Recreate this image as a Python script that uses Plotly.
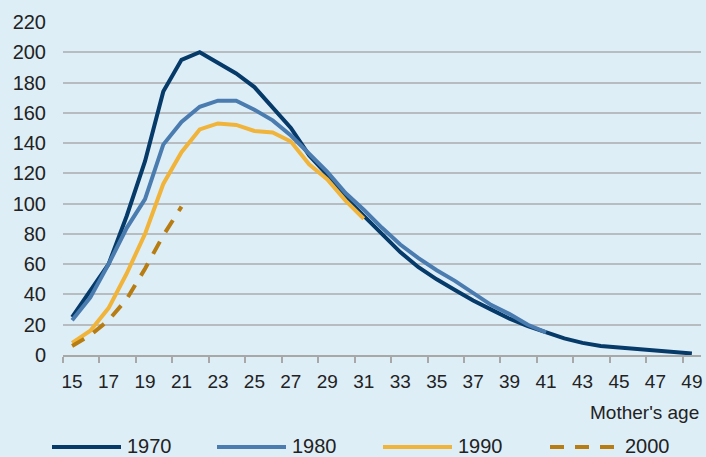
import plotly.graph_objects as go

# Mother's age (x categories) and births per 1000 women by year
ages = list(range(15, 50))

rates_1970 = [25, 42, 60, 92, 128, 174, 195, 200, 193, 186, 177, 163, 150, 132, 119,
              104, 92, 80, 68, 58, 50, 43, 36, 30, 24, 19, 15, 11, 8, 6, 5, 4, 3, 2, 1]
rates_1980 = [23, 38, 60, 84, 103, 139, 154, 164, 168, 168, 162, 155, 145, 133, 121,
              107, 96, 84, 73, 64, 56, 49, 41, 33, 27, 20, 15]
rates_1990 = [8, 16, 31, 54, 80, 113, 134, 149, 153, 152, 148, 147, 141, 126, 116, 102, 90]
rates_2000 = [6, 13, 23, 37, 57, 79, 98]

series_names = ['1970', '1980', '1990', '2000']
y_ticks = list(range(0, 221, 20))

colors = ['#053a69', '#4a7cb0', '#f0b43a', '#b77d12']
dashes = ['solid', 'solid', 'solid', '14px,11px']
font = 'Liberation Sans, Arial, sans-serif'

fig = go.Figure()

for name, rates, color, dash in zip(series_names, [rates_1970, rates_1980, rates_1990, rates_2000],
                                    colors, dashes):
    fig.add_trace(go.Scatter(
        x=ages[:len(rates)],
        y=rates,
        name=name,
        mode='lines',
        line=dict(color=color, width=4, dash=dash),
        showlegend=False
    ))

# Hand-made legend below the plot (long line samples like the original)
L, R, T, B = 63, 701, 22, 355


def px_x(p):
    return (p - L) / (R - L)


def px_y(p):
    return (B - p) / (B - T)


legend_line_x = [52, 217, 383, 550]
legend_y = 446
for name, color, dash, lx in zip(series_names, colors, dashes, legend_line_x):
    fig.add_shape(type='line', xref='paper', yref='paper',
                  x0=px_x(lx), x1=px_x(lx + 69), y0=px_y(legend_y + 1), y1=px_y(legend_y + 1),
                  line=dict(color=color, width=4, dash=dash))
    fig.add_annotation(xref='paper', yref='paper', x=px_x(lx + 73), y=px_y(legend_y),
                       text=name, showarrow=False, xanchor='left', yanchor='middle',
                       font=dict(family=font, size=20, color='#222222'))

fig.add_annotation(xref='paper', yref='paper', x=1, y=px_y(412),
                   text="Mother's age", showarrow=False, xanchor='right', yanchor='middle',
                   font=dict(family=font, size=19, color='#222222'))

fig.update_layout(
    width=706, height=457,
    margin=dict(l=L, r=706 - R, t=T, b=457 - B, pad=0),
    paper_bgcolor='#deeef7',
    plot_bgcolor='#deeef7',
    font=dict(family=font, size=19, color='#222222'),
    xaxis=dict(type='category', tickson='boundaries', dtick=2, ticks='outside', ticklen=6,
               tickcolor='#a8a8a8', tickwidth=2, showgrid=False, showline=True,
               linecolor='#a8a8a8', linewidth=2, tickfont=dict(size=19), tickangle=0,
               ticklabelstandoff=8, range=[-0.5, 34.5]),
    yaxis=dict(range=[0, 220], tickvals=y_ticks, showgrid=True, gridcolor='#b7bcc0',
               gridwidth=2, zeroline=False, showline=False, ticks='',
               ticklabelstandoff=16, tickfont=dict(size=20)),
)

fig.write_html("out.html", config={'displayModeBar': False},
               post_script="document.body.style.margin='0';")
